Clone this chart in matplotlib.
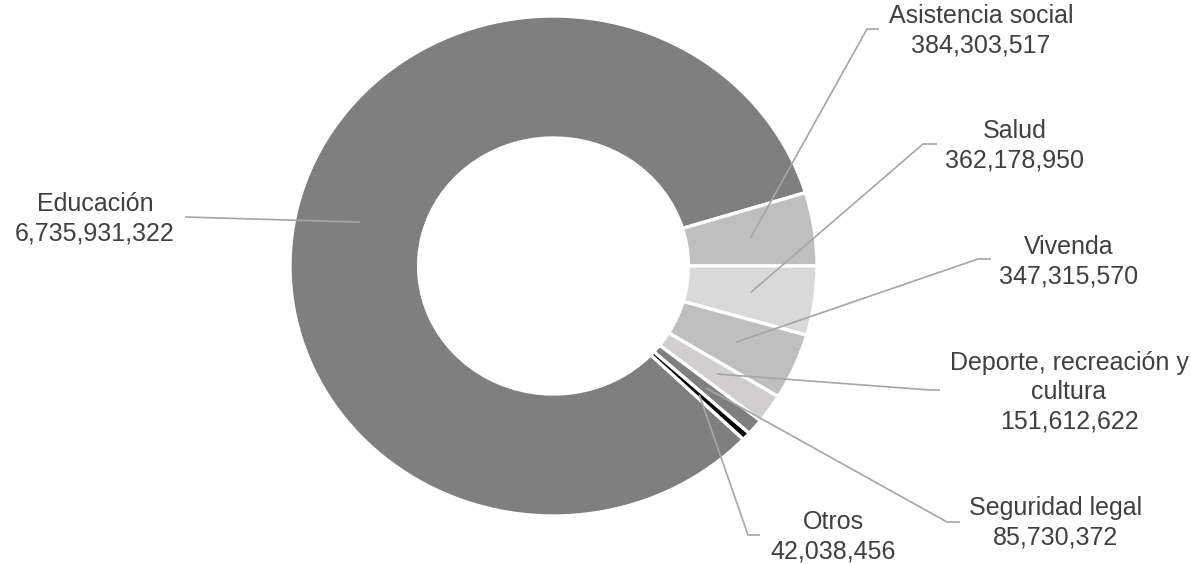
import matplotlib.pyplot as plt
import numpy as np

# datos del gráfico
categorias = ['Educación', 'Asistencia social', 'Salud', 'Vivenda',
              'Deporte, recreación y\ncultura', 'Seguridad legal', 'Otros']
valores = [6735931322, 384303517, 362178950, 347315570,
           151612622, 85730372, 42038456]
colores = ['#7f7f7f', '#bfbfbf', '#d9d9d9', '#bfbfbf',
           '#d0cece', '#7f7f7f', '#000000']

# posiciones de etiquetas (pixeles de la imagen): centro del texto y codo de la guía
pos_texto = [(95, 219), (981, 31), (1015, 146), (1069, 262),
             (1069, 392), (1056, 523), (833, 537)]
codos = [[(185, 217)],
         [(867, 29), (879, 29)],
         [(923, 144), (937, 144)],
         [(978, 259), (991, 259)],
         [(930, 390), (940, 390)],
         [(947, 522), (960, 522)],
         [(748, 535), (760, 535)]]

W, H = 1191, 564
plt.rcParams['font.family'] = ['Liberation Sans', 'DejaVu Sans']

fig = plt.figure(figsize=(W / 100, H / 100), dpi=100)
ax = fig.add_axes([290 / W, (H - 516) / H, 527 / W, 500 / H])

total = sum(valores)
inicio = 360 * (valores[0] + valores[1]) / total
wedges, _ = ax.pie(valores, colors=colores, startangle=inicio, counterclock=False,
                   radius=1, wedgeprops=dict(width=0.488, edgecolor='white', linewidth=2.4))
ax.set_aspect('auto')
ax.set_xlim(-1, 1)
ax.set_ylim(-1, 1)

# capa superior para etiquetas en pixeles
ov = fig.add_axes([0, 0, 1, 1], facecolor='none')
ov.set_xlim(0, W)
ov.set_ylim(H, 0)
ov.axis('off')

r_guia = 0.756
for w, cat, val, (tx, ty), codo in zip(wedges, categorias, valores, pos_texto, codos):
    ang = np.deg2rad((w.theta1 + w.theta2) / 2)
    px, py = ax.transData.transform((r_guia * np.cos(ang), r_guia * np.sin(ang)))
    py = H - py
    xs = [px] + [c[0] for c in codo]
    ys = [py] + [c[1] for c in codo]
    ov.plot(xs, ys, color='#a6a6a6', lw=1.2, solid_capstyle='butt')
    ov.text(tx, ty, f'{cat}\n{val:,}', ha='center', va='center', ma='center',
            fontsize=18, color='#404040', linespacing=1.27)

fig.savefig('out.png', dpi=100)
